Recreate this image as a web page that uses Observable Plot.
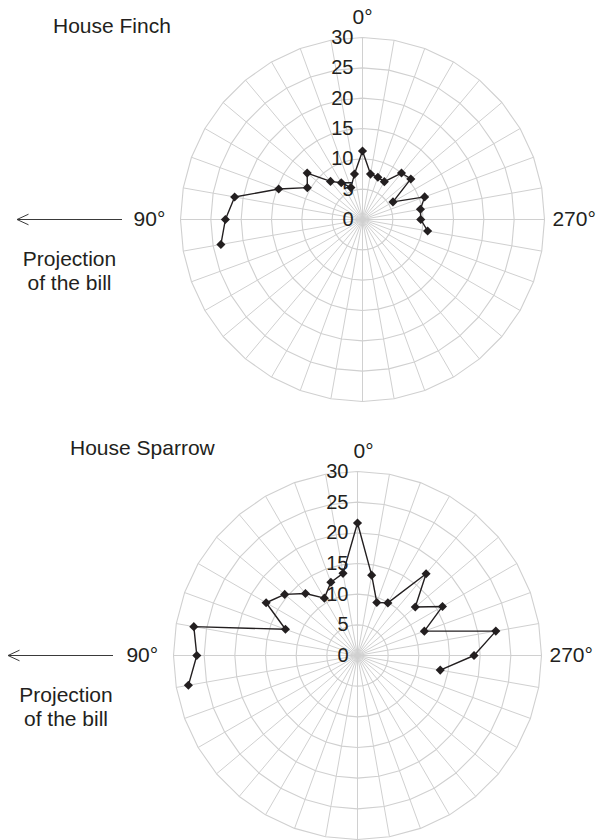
<!DOCTYPE html>
<html><head><meta charset="utf-8">
<script src="https://cdn.jsdelivr.net/npm/d3@7"></script>
<script src="https://cdn.jsdelivr.net/npm/@observablehq/plot@0.6"></script>
<style>
body{margin:0;background:#fff;}
#wrap{position:relative;width:596px;height:840px;overflow:hidden;font-family:"Liberation Sans",Arial,Helvetica,sans-serif;color:#231f20;background:#fff;}
.abs{position:absolute;}
.t{font-size:21px;line-height:21px;white-space:nowrap;}
.proj{font-size:21px;line-height:24px;text-align:center;width:140px;white-space:nowrap;}
#wrap svg.plotsvg{position:absolute;left:0;}
</style></head>
<body><div id="wrap"></div>
<script>
// Data (angle in degrees, 0° at top, increasing counter-clockwise toward 90° = bill direction)
const angles = [260, 270, 280, 290, 300, 310, 320, 330, 340, 350, 0, 10, 20, 30, 40, 50, 60, 70, 80, 90, 100];
const finchValues = [10.9, 9.6, 9.7, 10.9, 5.8, 10.4, 10.0, 7.2, 7.4, 7.6, 11.3, 7.6, 5.6, 7.0, 8.2, 11.9, 10.5, 14.7, 21.4, 22.6, 23.7];
const sparrowValues = [13.7, 19.0, 22.9, 11.6, 16.0, 12.3, 17.4, 9.9, 9.2, 13.3, 21.6, 13.6, 12.7, 10.8, 13.2, 15.5, 17.2, 12.5, 27.1, 26.2, 28.0];
const ringValues = [5, 10, 15, 20, 25, 30];
const tickLabels = ["0", "5", "10", "15", "20", "25", "30"];
const spokeAngles = [0,10,20,30,40,50,60,70,80,90,100,110,120,130,140,150,160,170,180,190,200,210,220,230,240,250,260,270,280,290,300,310,320,330,340,350];
const directionLabels = ["0°", "90°", "270°"];
const directionAngles = [0, 90, 270];
const titles = ["House Finch", "House Sparrow"];

const INK = "#231f20", GRID = "#d0d0d0";
const rad = a => a * Math.PI / 180;
const px = (r, a) => -r * Math.sin(rad(a));
const py = (r, a) => r * Math.cos(rad(a));
const rMax = 30;

function radar(values, cfg) {
  const pts = angles.map((a, i) => ({a, v: values[i], x: px(values[i], a), y: py(values[i], a)}));
  const ringData = ringValues.flatMap(r => spokeAngles.concat([360]).map(a => ({ring: r, x: px(r, a), y: py(r, a)})));
  const dirPos = {0: {r: 33.3, anchor: "middle"}, 90: {r: 32.5, anchor: "end"}, 270: {r: 31.3, anchor: "start"}};
  const dirData = directionLabels.map((t, i) => {
    const a = directionAngles[i], p = dirPos[a];
    return {t, x: px(p.r, a), y: py(p.r, a), anchor: p.anchor};
  });
  const svg = Plot.plot({
    width: 596, height: cfg.height,
    marginLeft: cfg.ml, marginRight: cfg.mr, marginTop: cfg.mt, marginBottom: cfg.mb,
    x: {domain: [-rMax, rMax], axis: null},
    y: {domain: [-rMax, rMax], axis: null},
    style: {background: "transparent", overflow: "visible", fontFamily: "Liberation Sans, Arial, Helvetica, sans-serif"},
    marks: [
      Plot.link(spokeAngles, {x1: () => 0, y1: () => 0, x2: a => px(rMax, a), y2: a => py(rMax, a), stroke: GRID, strokeWidth: 1}),
      Plot.line(ringData, {x: "x", y: "y", z: "ring", stroke: GRID, strokeWidth: 1.1}),
      Plot.text(tickLabels, {x: () => 0, y: d => +d, text: d => d, textAnchor: "end", dx: -9, fontSize: 20, fill: INK}),
      Plot.text(dirData.filter(d => d.anchor === "middle"), {x: "x", y: "y", text: "t", textAnchor: "middle", dx: cfg.zeroDx, fontSize: 21, fill: INK}),
      Plot.text(dirData.filter(d => d.anchor === "end"), {x: "x", y: "y", text: "t", textAnchor: "end", fontSize: 21, fill: INK}),
      Plot.text(dirData.filter(d => d.anchor === "start"), {x: "x", y: "y", text: "t", textAnchor: "start", fontSize: 21, fill: INK}),
      Plot.line(pts, {x: "x", y: "y", stroke: INK, strokeWidth: 1.4, curve: "linear"}),
      Plot.dot(pts, {x: "x", y: "y", symbol: "diamond2", r: 4.1, fill: INK, stroke: "none"})
    ]
  });
  svg.classList.add("plotsvg");
  svg.style.top = cfg.top + "px";
  return svg;
}

const wrap = document.getElementById("wrap");
wrap.appendChild(radar(finchValues, {top: 0, height: 420, ml: 180, mr: 52, mt: 37, mb: 19, zeroDx: 0}));
wrap.appendChild(radar(sparrowValues, {top: 420, height: 420, ml: 173, mr: 55, mt: 51, mb: 1, zeroDx: 6}));

function addDiv(cls, text, left, top) {
  const d = document.createElement("div");
  d.className = "abs " + cls;
  d.innerHTML = text;
  d.style.left = left + "px";
  d.style.top = top + "px";
  wrap.appendChild(d);
}
function addArrow(x1, x2, y) {
  const ns = "http://www.w3.org/2000/svg";
  const s = document.createElementNS(ns, "svg");
  s.setAttribute("width", 596); s.setAttribute("height", 840);
  s.style.position = "absolute"; s.style.left = "0"; s.style.top = "0"; s.style.overflow = "visible";
  const g = document.createElementNS(ns, "path");
  g.setAttribute("d", `M${x2},${y}H${x1}M${x1 + 11.5},${y - 5.3}L${x1},${y}L${x1 + 11.5},${y + 5.3}`);
  g.setAttribute("fill", "none"); g.setAttribute("stroke", "#3a3a3a"); g.setAttribute("stroke-width", "1");
  s.appendChild(g);
  wrap.appendChild(s);
}
addDiv("t", titles[0], 53, 15.2);
addDiv("t", titles[1], 70, 437.2);
addDiv("proj", "Projection<br>of the bill", -0.5, 246.7);
addDiv("proj", "Projection<br>of the bill", -4, 682.7);
addArrow(17, 122, 219.5);
addArrow(8, 113, 655.5);
</script>
</body></html>
